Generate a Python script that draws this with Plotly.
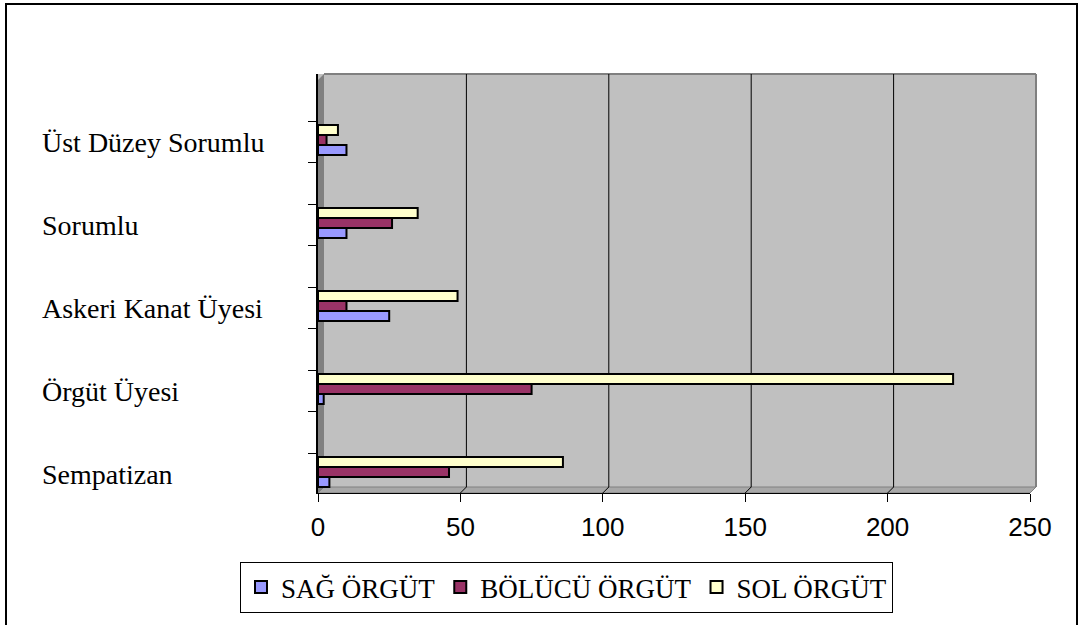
import plotly.graph_objects as go

categories = ["Sempatizan", "Örgüt Üyesi", "Askeri Kanat Üyesi", "Sorumlu", "Üst Düzey Sorumlu"]
series_names = ["SAĞ ÖRGÜT", "BÖLÜCÜ ÖRGÜT", "SOL ÖRGÜT"]
sag = [4, 2, 25, 10, 10]
bolucu = [46, 75, 10, 26, 3]
sol = [86, 223, 49, 35, 7]
x_ticks = [0, 50, 100, 150, 200, 250]
colors = ["#9999FF", "#993366", "#FFFFCC"]

W, H = 1080, 625
L, R, T, B = 318, 50, 74, 132
pw, ph = W - L - R, H - T - B
DEPTH = 6  # pixel offset of the back wall (3D look)

def px_x(p):
    return (p - L) / pw

def px_y(p):
    return (H - B - p) / ph

idx = list(range(len(categories)))
fig = go.Figure()
for name, vals, col in zip(series_names, [sag, bolucu, sol], colors):
    fig.add_trace(go.Bar(
        y=idx, x=vals, name=name, orientation="h",
        marker=dict(color=col, line=dict(color="black", width=2)),
    ))

# category labels
for i, c in enumerate(categories):
    fig.add_annotation(x=px_x(40), xref="paper", y=i - 0.03, yref="y",
                       text=c, showarrow=False, xanchor="left", yanchor="middle",
                       font=dict(family="Liberation Serif", size=28, color="black"))

shapes = []
# outer border
shapes.append(dict(type="rect", xref="paper", yref="paper",
                   x0=px_x(6), x1=px_x(1077), y0=px_y(640), y1=px_y(4),
                   line=dict(color="black", width=2), layer="below"))
# extra back-wall strip on the right
shapes.append(dict(type="path", xref="paper", yref="paper",
                   path=f"M {px_x(1030)} {px_y(487)} L {px_x(1030+DEPTH)} {px_y(487)} L {px_x(1030+DEPTH)} {px_y(74)} L {px_x(1030)} {px_y(74)} Z",
                   fillcolor="#C0C0C0", line=dict(width=0), layer="below"))
# left 3D wall
shapes.append(dict(type="path", xref="paper", yref="paper",
                   path=f"M {px_x(318)} {px_y(493)} L {px_x(318+DEPTH)} {px_y(487)} L {px_x(318+DEPTH)} {px_y(74)} L {px_x(318)} {px_y(80)} Z",
                   fillcolor="#808080", line=dict(width=0), layer="below"))
# floor
shapes.append(dict(type="path", xref="paper", yref="paper",
                   path=f"M {px_x(318)} {px_y(493)} L {px_x(318+DEPTH)} {px_y(487)} L {px_x(1030+DEPTH)} {px_y(487)} L {px_x(1030)} {px_y(493)} Z",
                   fillcolor="#A8A8A8", line=dict(color="#808080", width=1), layer="below"))
# back-wall border lines
shapes.append(dict(type="line", xref="paper", yref="paper",
                   x0=px_x(1030+DEPTH), x1=px_x(1030+DEPTH), y0=px_y(487), y1=px_y(74),
                   line=dict(color="#808080", width=2), layer="below"))
shapes.append(dict(type="line", xref="paper", yref="paper",
                   x0=px_x(318+DEPTH), x1=px_x(1030+DEPTH), y0=px_y(74), y1=px_y(74),
                   line=dict(color="#808080", width=2), layer="below"))
# gridlines on back wall
for v in x_ticks[1:-1]:
    shapes.append(dict(type="line", xref="x", yref="paper", xsizemode="pixel", xanchor=v,
                       x0=DEPTH, x1=DEPTH, y0=px_y(487), y1=px_y(74),
                       line=dict(color="black", width=1), layer="below"))
    shapes.append(dict(type="line", xref="x", yref="paper", xsizemode="pixel", xanchor=v,
                       x0=0, x1=DEPTH, y0=px_y(493), y1=px_y(487),
                       line=dict(color="black", width=1), layer="below"))

fig.update_layout(
    width=W, height=H,
    margin=dict(l=L, r=R, t=T, b=B),
    paper_bgcolor="white", plot_bgcolor="#C0C0C0",
    barmode="group", bargap=0.64, bargroupgap=0,
    shapes=shapes,
    showlegend=True,
    legend=dict(orientation="h", x=px_x(240), y=px_y(562), xanchor="left", yanchor="top",
                bordercolor="black", borderwidth=1, bgcolor="white",
                font=dict(family="Liberation Serif", size=27, color="black"),
                itemwidth=30, traceorder="normal"),
    xaxis=dict(range=[0, 250], tickvals=x_ticks, ticktext=[str(v) for v in x_ticks],
               showgrid=False, zeroline=False,
               showline=True, linecolor="black", linewidth=1,
               ticks="outside", ticklen=8, tickcolor="black", ticklabelstandoff=3,
               tickfont=dict(family="Liberation Sans", size=26, color="black")),
    yaxis=dict(range=[-0.253, 4.795],
               tickvals=[i - 0.27 for i in idx] + [i + 0.22 for i in idx],
               ticktext=[""] * (2 * len(idx)),
               showgrid=False, zeroline=False,
               showline=True, linecolor="black", linewidth=2,
               ticks="outside", ticklen=8, tickcolor="black"),
)

fig.write_html("out.html", config={"displayModeBar": False},
               post_script="document.body.style.margin='0';")
